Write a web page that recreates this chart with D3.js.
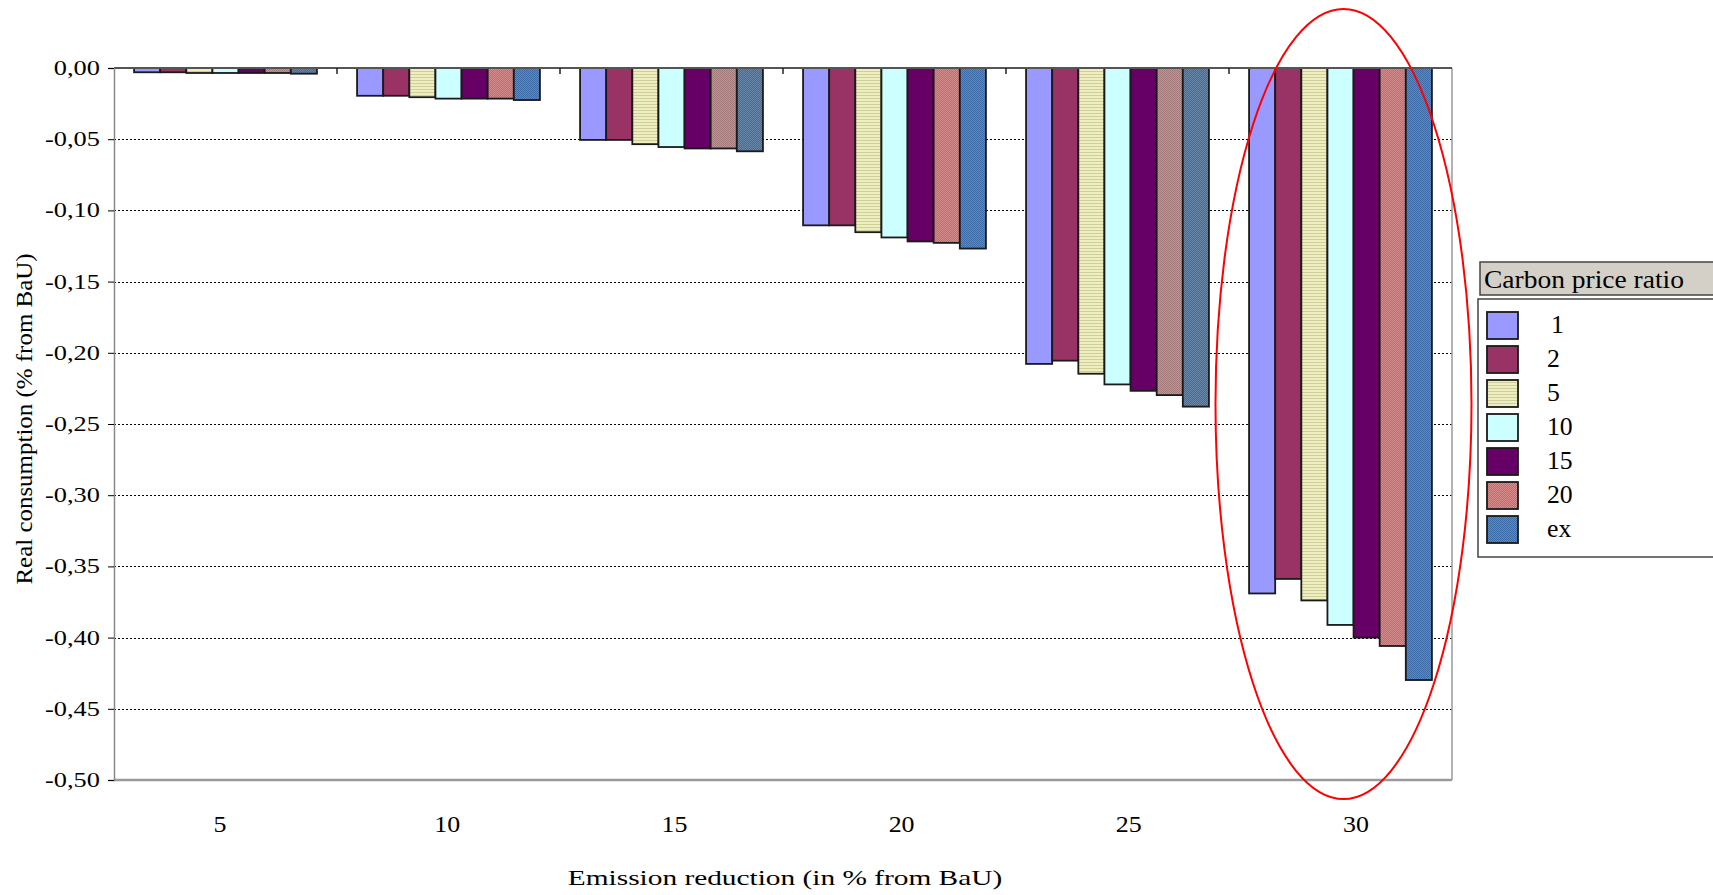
<!DOCTYPE html>
<html>
<head>
<meta charset="utf-8">
<script src="https://cdn.jsdelivr.net/npm/d3@7"></script>
<style>
    html, body {margin: 0; padding: 0; background: #fff; overflow: hidden;}
    text {font-family: "Liberation Serif", "DejaVu Serif", serif; fill: #000;}
</style>
</head>
<body>
<div id="wrapper"></div>
<script>
// emission reduction groups (x axis)
const categories = ["5", "10", "15", "20", "25", "30"]
// carbon price ratio series
const seriesNames = ["1", "2", "5", "10", "15", "20", "ex"]
const ratio1 = [-0.003, -0.0195, -0.0505, -0.1105, -0.2078, -0.3690]
const ratio2 = [-0.003, -0.0195, -0.0505, -0.1105, -0.2055, -0.3588]
const ratio5 = [-0.0035, -0.0205, -0.0535, -0.1153, -0.2147, -0.3739]
const ratio10 = [-0.0035, -0.0215, -0.0555, -0.1190, -0.2222, -0.3911]
const ratio15 = [-0.0035, -0.0215, -0.0565, -0.1218, -0.2267, -0.4000]
const ratio20 = [-0.0035, -0.0215, -0.0565, -0.1228, -0.2297, -0.4059]
const ratioEx = [-0.004, -0.0225, -0.0585, -0.1268, -0.2378, -0.4298]
const yTickValues = [0, -0.05, -0.10, -0.15, -0.20, -0.25, -0.30, -0.35, -0.40, -0.45, -0.50]

const seriesValues = [ratio1, ratio2, ratio5, ratio10, ratio15, ratio20, ratioEx]
const seriesFills = ["#9999ff", "#993366", "url(#pat5)", "#ccffff", "#660066", "url(#pat20)", "url(#patEx)"]

function drawChart() {
    d3.selectAll("svg").remove()
    const dataset = categories.map((c, i) => ({
        category: c,
        values: seriesNames.map((s, j) => ({series: s, value: seriesValues[j][i], fill: seriesFills[j]}))
    }))
    const dimensions = createChartDimensions()
    const svg = drawCanvas(dimensions)
    definePatterns(svg)
    const {xScale, xInner, yScale, labelScale} = createScales(dimensions)
    drawGrid(svg, xScale, yScale, dimensions)
    drawData(svg, dataset, xScale, xInner, yScale)
    drawPeripherals(svg, xScale, yScale, labelScale, dimensions)
    drawLegend(svg)
    drawHighlight(svg, xScale)
}

function createChartDimensions() {
    let dimensions = {
        width: 1713,
        height: 895,
        margin: {top: 68, right: 261, bottom: 115, left: 114},
    }
    dimensions.boundedWidth = dimensions.width - dimensions.margin.left - dimensions.margin.right
    dimensions.boundedHeight = dimensions.height - dimensions.margin.top - dimensions.margin.bottom
    return dimensions
}

function drawCanvas(dimensions) {
    return d3.select("#wrapper")
        .append("svg")
        .attr("width", dimensions.width)
        .attr("height", dimensions.height)
}

function definePatterns(svg) {
    const defs = svg.append("defs")
    const p5 = defs.append("pattern").attr("id", "pat5")
        .attr("patternUnits", "userSpaceOnUse").attr("width", 4).attr("height", 3)
    p5.append("rect").attr("width", 4).attr("height", 3).attr("fill", "#eeeec0")
    p5.append("rect").attr("y", 2).attr("width", 4).attr("height", 1).attr("fill", "#cfcf9c")

    const checker = (id, a, b) => {
        const p = defs.append("pattern").attr("id", id)
            .attr("patternUnits", "userSpaceOnUse").attr("width", 2).attr("height", 2)
        p.append("rect").attr("width", 2).attr("height", 2).attr("fill", a)
        p.append("rect").attr("width", 1).attr("height", 1).attr("fill", b)
        p.append("rect").attr("x", 1).attr("y", 1).attr("width", 1).attr("height", 1).attr("fill", b)
    }
    checker("pat20", "#d88c8c", "#a07878")
    checker("patEx", "#3a6aa8", "#6a88a8")
}

function createScales(dimensions) {
    const xScale = d3.scaleBand()
        .domain(categories)
        .range([dimensions.margin.left, dimensions.margin.left + dimensions.boundedWidth])
        .paddingInner(0.18)
        .paddingOuter(0.09)
    const xInner = d3.scaleBand()
        .domain(seriesNames)
        .range([0, xScale.bandwidth()])
    const yScale = d3.scaleLinear()
        .domain([0, -0.5])
        .range([dimensions.margin.top, dimensions.margin.top + dimensions.boundedHeight])
    // category labels sit on a slightly wider spacing than the bar groups
    const labelScale = d3.scalePoint()
        .domain(categories)
        .range([220, 1356])
    return {xScale, xInner, yScale, labelScale}
}

function drawGrid(svg, xScale, yScale, dimensions) {
    const left = dimensions.margin.left
    const right = dimensions.margin.left + dimensions.boundedWidth
    svg.append("g")
        .selectAll("line")
        .data(yTickValues.slice(1, -1))
        .join("line")
        .attr("x1", left)
        .attr("x2", right)
        .attr("y1", d => Math.round(yScale(d)) + 0.5)
        .attr("y2", d => Math.round(yScale(d)) + 0.5)
        .attr("stroke", "#000")
        .attr("stroke-width", 1.2)
        .attr("stroke-dasharray", "2,2")
}

function drawData(svg, dataset, xScale, xInner, yScale) {
    const groups = svg.append("g")
        .selectAll("g")
        .data(dataset)
        .join("g")
        .attr("transform", d => `translate(${xScale(d.category)},0)`)
    groups.selectAll("rect")
        .data(d => d.values)
        .join("rect")
        .attr("x", d => xInner(d.series))
        .attr("y", yScale(0))
        .attr("width", xInner.bandwidth())
        .attr("height", d => yScale(d.value) - yScale(0))
        .attr("fill", d => d.fill)
        .attr("stroke", "#1a1a1a")
        .attr("stroke-width", 1.8)
}

function drawPeripherals(svg, xScale, yScale, labelScale, dimensions) {
    const left = dimensions.margin.left
    const right = dimensions.margin.left + dimensions.boundedWidth
    const top = yScale(0)
    const bottom = yScale(-0.5)
    const locale = d3.formatLocale({decimal: ",", thousands: ".", grouping: [3], currency: ["", ""], minus: "-"})
    const fmt = locale.format(".2f")

    // frame
    svg.append("line").attr("x1", right).attr("x2", right).attr("y1", top).attr("y2", bottom)
        .attr("stroke", "#9a9a9a").attr("stroke-width", 1.5)
    svg.append("line").attr("x1", left).attr("x2", right).attr("y1", bottom).attr("y2", bottom)
        .attr("stroke", "#9a9a9a").attr("stroke-width", 2.5)
    svg.append("line").attr("x1", left).attr("x2", right).attr("y1", top).attr("y2", top)
        .attr("stroke", "#555").attr("stroke-width", 2)

    // y axis (labels are stretched horizontally in the original)
    const yAxis = svg.append("g")
        .attr("transform", `translate(${left},0)`)
        .call(d3.axisLeft(yScale).tickValues(yTickValues).tickFormat(fmt).tickSize(6).tickPadding(4.6))
    yAxis.select(".domain").attr("stroke", "#888").attr("stroke-width", 1.5)
    yAxis.selectAll(".tick line").attr("stroke", "#000")
    yAxis.selectAll("text")
        .attr("font-size", 20)
        .attr("fill", "#000")
        .attr("transform", "scale(1.32,1)")

    // ticks at group boundaries along the zero line
    const step = xScale.step()
    const boundaries = categories.map(c => xScale(c) - step * xScale.paddingInner() / 2).slice(1)
    svg.append("g").selectAll("line")
        .data(boundaries)
        .join("line")
        .attr("x1", d => d).attr("x2", d => d)
        .attr("y1", top).attr("y2", top + 6)
        .attr("stroke", "#222").attr("stroke-width", 1.5)

    // x labels
    svg.append("g").selectAll("text")
        .data(categories)
        .join("text")
        .attr("transform", d => `translate(${labelScale(d)},832) scale(1.08,1)`)
        .attr("text-anchor", "middle")
        .attr("font-size", 24)
        .text(d => d)

    svg.append("text")
        .attr("transform", "translate(785,885) scale(1.365,1)")
        .attr("text-anchor", "middle")
        .attr("font-size", 21.5)
        .text("Emission reduction (in %  from BaU)")

    svg.append("text")
        .attr("transform", "translate(32,419) rotate(-90) scale(1.085,1)")
        .attr("text-anchor", "middle")
        .attr("font-size", 23)
        .text("Real consumption (% from BaU)")
}

function drawLegend(svg) {
    const lg = svg.append("g")
    lg.append("rect")
        .attr("x", 1480).attr("y", 262).attr("width", 260).attr("height", 33)
        .attr("fill", "#d4d0c8").attr("stroke", "#444").attr("stroke-width", 1.5)
    lg.append("text")
        .attr("transform", "translate(1484,288) scale(1.1,1)")
        .attr("font-size", 25)
        .text("Carbon price ratio")
    lg.append("rect")
        .attr("x", 1478).attr("y", 299).attr("width", 262).attr("height", 258)
        .attr("fill", "#fff").attr("stroke", "#444").attr("stroke-width", 1.5)
    const items = lg.selectAll("g.item")
        .data(seriesNames)
        .join("g")
        .attr("class", "item")
        .attr("transform", (d, i) => `translate(1487,${312 + i * 34})`)
    items.append("rect")
        .attr("width", 31).attr("height", 27)
        .attr("fill", (d, i) => seriesFills[i])
        .attr("stroke", "#1a1a1a").attr("stroke-width", 1.8)
    items.append("text")
        .attr("transform", d => `translate(${d === "1" ? 64 : 60},21) scale(1.05,1)`)
        .attr("font-size", 24.5)
        .text(d => d)
}

function drawHighlight(svg, xScale) {
    // red ellipse around the 30% group
    svg.append("ellipse")
        .attr("cx", xScale("30") + xScale.bandwidth() / 2 + 3)
        .attr("cy", 404)
        .attr("rx", 128)
        .attr("ry", 395)
        .attr("fill", "none")
        .attr("stroke", "#ff0000")
        .attr("stroke-width", 2)
}

drawChart()
</script>
</body>
</html>
